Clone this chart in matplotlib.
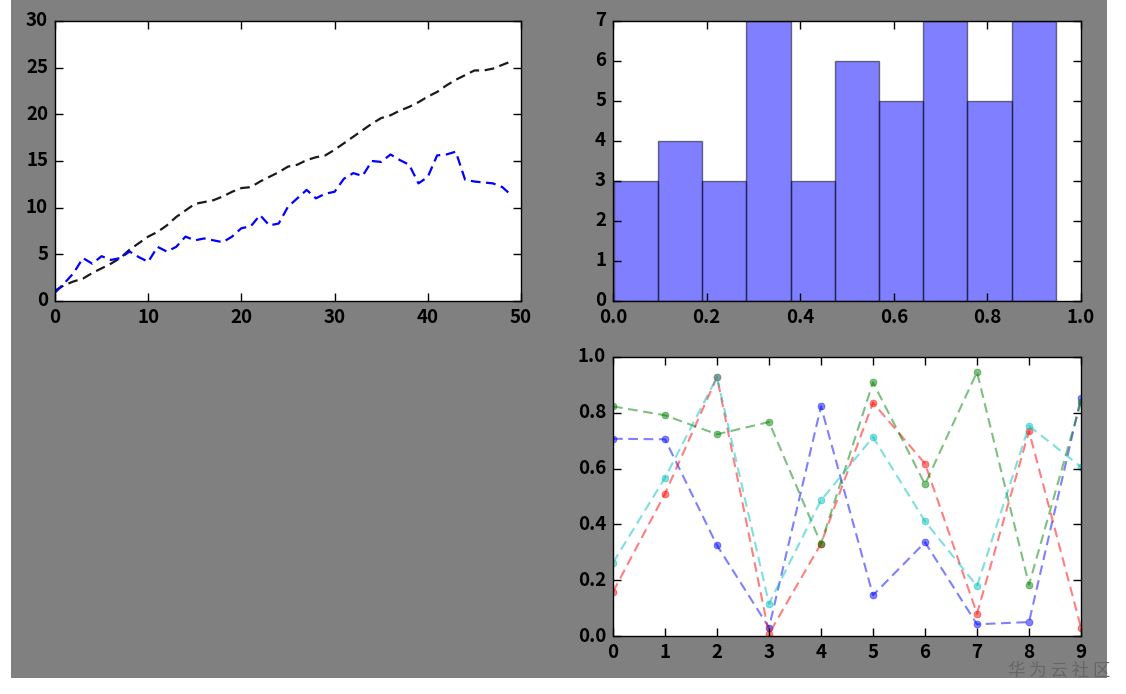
import numpy as np
import matplotlib
matplotlib.use("Agg")
import matplotlib.pyplot as plt
from matplotlib.patches import Rectangle

plt.style.use('classic')
plt.rcParams['font.family'] = ['Noto Sans CJK SC', 'DejaVu Sans']

# ---- Data: top-left line chart ----
x_line = list(range(50))
black_series = [1.1, 1.7, 2.1, 2.4, 3.0, 3.5, 4.0, 4.6, 5.5, 6.2,
                6.9, 7.4, 8.1, 9.0, 9.7, 10.4, 10.6, 10.8, 11.2, 11.7,
                12.1, 12.2, 12.8, 13.3, 13.8, 14.4, 14.6, 15.1, 15.4, 15.6,
                16.2, 16.9, 17.6, 18.3, 19.0, 19.6, 19.9, 20.4, 20.8, 21.3,
                21.9, 22.4, 23.1, 23.7, 24.2, 24.7, 24.7, 24.9, 25.3, 25.7]
blue_series = [0.9, 1.9, 3.0, 4.6, 4.0, 4.8, 4.4, 4.6, 5.3, 4.7,
               4.2, 5.8, 5.3, 5.8, 6.9, 6.5, 6.7, 6.5, 6.3, 6.9,
               7.8, 8.0, 9.2, 8.1, 8.3, 10.1, 11.0, 11.9, 11.0, 11.5,
               11.7, 13.1, 13.7, 13.4, 15.0, 14.9, 15.7, 15.1, 14.6, 12.6,
               13.3, 15.6, 15.7, 16.0, 13.0, 12.8, 12.7, 12.6, 12.2, 11.3]

# ---- Data: histogram ----
hist_edges = [0.002, 0.0964, 0.1908, 0.2852, 0.3796, 0.474,
              0.5684, 0.6628, 0.7572, 0.8516, 0.946]
hist_counts = [3, 4, 3, 7, 3, 6, 5, 7, 5, 7]

# ---- Data: bottom-right multi-line ----
x_pts = list(range(10))
s_blue = [0.707, 0.705, 0.325, 0.030, 0.823, 0.146, 0.336, 0.042, 0.050, 0.854]
s_red = [0.158, 0.510, 0.928, 0.008, 0.331, 0.836, 0.618, 0.080, 0.734, 0.030]
s_green = [0.823, 0.791, 0.723, 0.767, 0.331, 0.909, 0.544, 0.946, 0.184, 0.839]
s_cyan = [0.263, 0.567, 0.928, 0.116, 0.486, 0.713, 0.411, 0.179, 0.753, 0.606]

W, H = 1126, 694
fig = plt.figure(figsize=(W / 100, H / 100), dpi=100, facecolor='white')
fig.patches.append(Rectangle((11 / W, 1 - 678 / H), (1107 - 11) / W, 678 / H,
                             transform=fig.transFigure, facecolor='#808080',
                             edgecolor='none', zorder=-10))

def fx(px):
    return px / W

def fy(py):
    return 1 - py / H

ax1 = fig.add_axes([fx(55), fy(301), fx(521 - 55), (301 - 21) / H])
ax2 = fig.add_axes([fx(613), fy(301), fx(1081 - 613), (301 - 21) / H])
ax3 = fig.add_axes([fx(613), fy(636), fx(1081 - 613), (636 - 357) / H])

ax1.plot(x_line, black_series, '--', color='#1a1a1a', lw=1.6, dashes=(7, 4))
ax1.plot(x_line, blue_series, '--', color='#0000ff', lw=1.6, dashes=(7, 4))
ax1.set_xlim(0, 50)
ax1.set_ylim(0, 30)

ax2.hist(hist_edges[:-1], bins=hist_edges, weights=hist_counts,
         color='b', alpha=0.5, edgecolor='k', linewidth=1.0)
ax2.set_xlim(0, 1)
ax2.set_ylim(0, 7)

for vals, c in [(s_blue, 'b'), (s_red, 'r'), (s_green, 'g'), (s_cyan, 'c')]:
    ax3.plot(x_pts, vals, 'o--', color=c, alpha=0.5, lw=1.5, markersize=5,
             markeredgecolor=c, dashes=(7, 4))
ax3.set_xlim(0, 9)
ax3.set_ylim(0, 1)
ax3.set_xticks(x_pts)

for ax in (ax1, ax2, ax3):
    ax.set_facecolor('white')
    ax.tick_params(direction='in', top=True, right=True, length=6, width=1,
                   pad=5)
    for lab in ax.get_xticklabels() + ax.get_yticklabels():
        lab.set_fontsize(13.5)
        lab.set_fontweight('bold')

fig.text(1059 / W, fy(671), '华 为 云 社 区', fontsize=12.5, color='#666666',
         ha='center', va='center', family=['Noto Sans CJK SC', 'DejaVu Sans'])

fig.savefig('out.png', dpi=100, facecolor=fig.get_facecolor())
